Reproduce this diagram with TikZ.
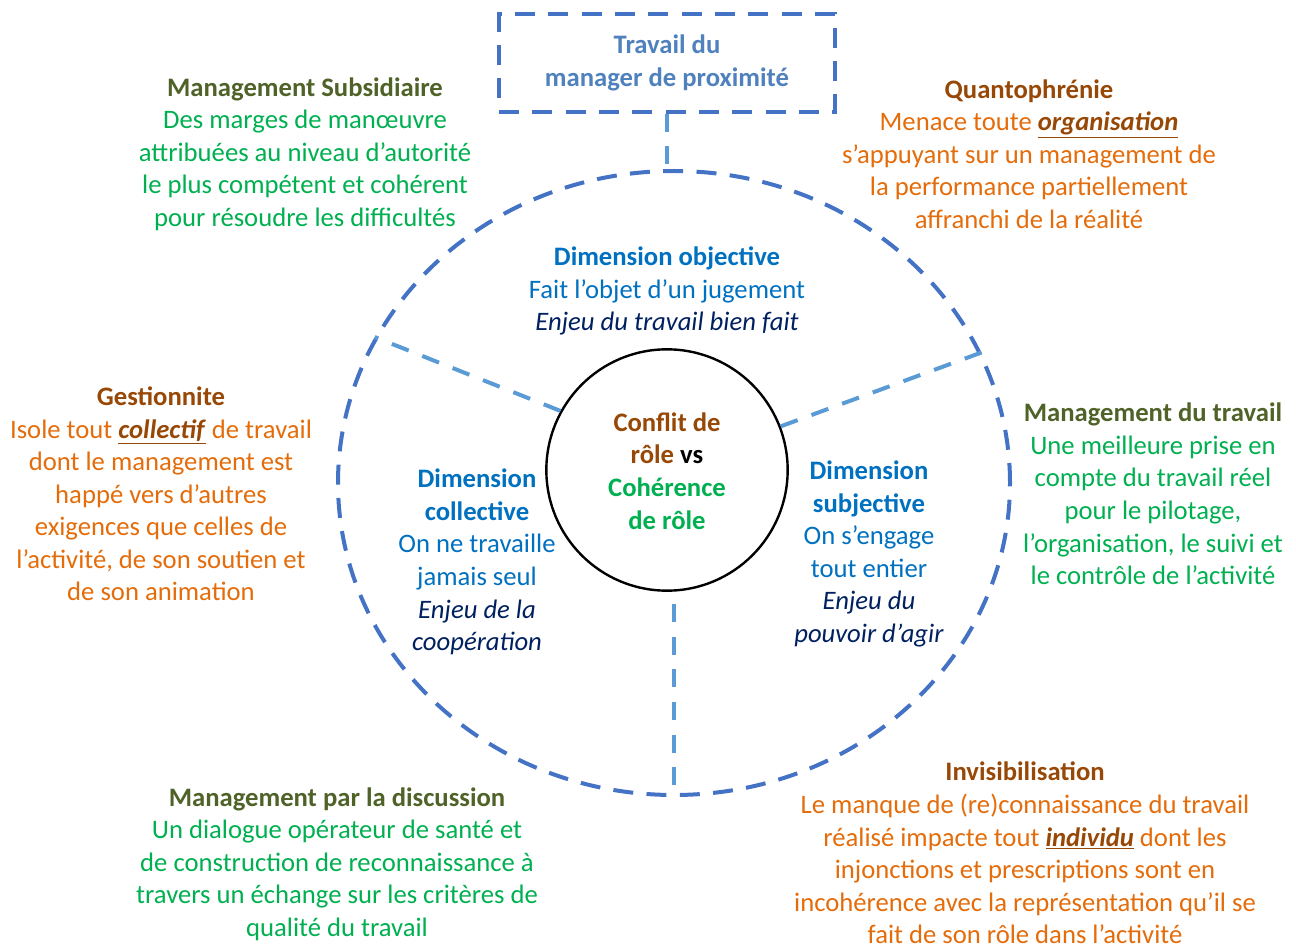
\documentclass[tikz,border=0pt]{standalone}
\usepackage{fontspec}
\setmainfont{Carlito}
\usepackage{tikz}
\usetikzlibrary{shapes.geometric}

\definecolor{dashblue}{HTML}{4472C4}
\definecolor{linkblue}{HTML}{5B9BD5}
\definecolor{boxtxt}{HTML}{4F81BD}
\definecolor{olivetxt}{HTML}{4F6228}
\definecolor{greentxt}{HTML}{00B050}
\definecolor{orangetxt}{HTML}{E46C0A}
\definecolor{browntxt}{HTML}{984806}
\definecolor{dimblue}{HTML}{0070C0}
\definecolor{navytxt}{HTML}{002060}

\newcommand{\keyword}[1]{\textcolor{browntxt}{\underline{\textbf{\textit{#1}}}}}

\begin{document}
\begin{tikzpicture}[x=0.75pt,y=-0.75pt,
  blk/.style={align=center,font=\fontsize{20}{24.4}\selectfont,inner sep=0pt},
  bigdash/.style={dashblue,line width=3pt,dash pattern=on 15pt off 10pt},
  linkdash/.style={linkblue,line width=3pt,dash pattern=on 13.5pt off 11pt}]
  \useasboundingbox (0,0) rectangle (1296,948);

  % circles and title box
  \node[draw,bigdash,ellipse,minimum width=504pt,minimum height=468pt,inner sep=0pt] (outer) at (674,483) {};
  \node[draw,black,line width=1.8pt,circle,minimum size=181pt,inner sep=0pt] (core) at (667,470) {};
  \node[draw,bigdash,minimum width=252pt,minimum height=73pt,inner sep=0pt] (box) at (667,63) {};
  \node[blk,text=boxtxt,font=\fontsize{20}{24.4}\selectfont\bfseries] (title) at (667,63) {Travail du\\manager de proximité};

  % links
  \draw[linkdash] (box.south) -- (box.south |- outer.north);
  \draw[linkdash] (core.151) -- (outer.154);
  \draw[linkdash] (core.21) -- (outer.23);
  \draw[linkdash,shorten <=9pt,shorten >=3pt] (outer.south |- core.south) -- (outer.south);

  % center
  \node[blk,font=\fontsize{20}{24.4}\selectfont\bfseries] (conflit) at (667,471)
    {\textcolor{browntxt}{Conflit de}\\\textcolor{browntxt}{rôle} vs\\\textcolor{greentxt}{Cohérence}\\\textcolor{greentxt}{de rôle}};

  % dimensions
  \node[blk,text=dimblue] (dimobj) at (667,291)
    {\textbf{Dimension objective}\\Fait l’objet d’un jugement\\\textcolor{navytxt}{\textit{Enjeu du travail bien fait}}};
  \node[blk,text=dimblue] (dimcol) at (477,562)
    {\textbf{Dimension}\\\textbf{collective}\\On ne travaille\\jamais seul\\\textcolor{navytxt}{\textit{Enjeu de la}}\\\textcolor{navytxt}{\textit{coopération}}};
  \node[blk,text=dimblue] (dimsub) at (869,554)
    {\textbf{Dimension}\\\textbf{subjective}\\On s’engage\\tout entier\\\textcolor{navytxt}{\textit{Enjeu du}}\\\textcolor{navytxt}{\textit{pouvoir d’agir}}};

  % management sides
  \node[blk,text=greentxt] (msub) at (305,154)
    {\textcolor{olivetxt}{\textbf{Management Subsidiaire}}\\Des marges de manœuvre\\attribuées au niveau d’autorité\\le plus compétent et cohérent\\pour résoudre les difficultés};
  \node[blk,text=orangetxt] (quanto) at (1029,154)
    {\textcolor{browntxt}{\textbf{Quantophrénie}}\\Menace toute \keyword{organisation}\\s’appuyant sur un management de\\la performance partiellement\\affranchi de la réalité};
  \node[blk,text=orangetxt] (gestion) at (161,494)
    {\textcolor{browntxt}{\textbf{Gestionnite}}\\Isole tout \keyword{collectif} de travail\\dont le management est\\happé vers d’autres\\exigences que celles de\\l’activité, de son soutien et\\de son animation};
  \node[blk,text=greentxt] (mtrav) at (1153,494)
    {\textcolor{olivetxt}{\textbf{Management du travail}}\\Une meilleure prise en\\compte du travail réel\\pour le pilotage,\\l’organisation, le suivi et\\le contrôle de l’activité};
  \node[blk,text=greentxt] (mdisc) at (337,864)
    {\textcolor{olivetxt}{\textbf{Management par la discussion}}\\Un dialogue opérateur de santé et\\de construction de reconnaissance à\\travers un échange sur les critères de\\qualité du travail};
  \node[blk,text=orangetxt] (invis) at (1025,853)
    {\textcolor{browntxt}{\textbf{Invisibilisation}}\\Le manque de (re)connaissance du travail\\réalisé impacte tout \keyword{individu} dont les\\injonctions et prescriptions sont en\\incohérence avec la représentation qu’il se\\fait de son rôle dans l’activité};
\end{tikzpicture}
\end{document}
